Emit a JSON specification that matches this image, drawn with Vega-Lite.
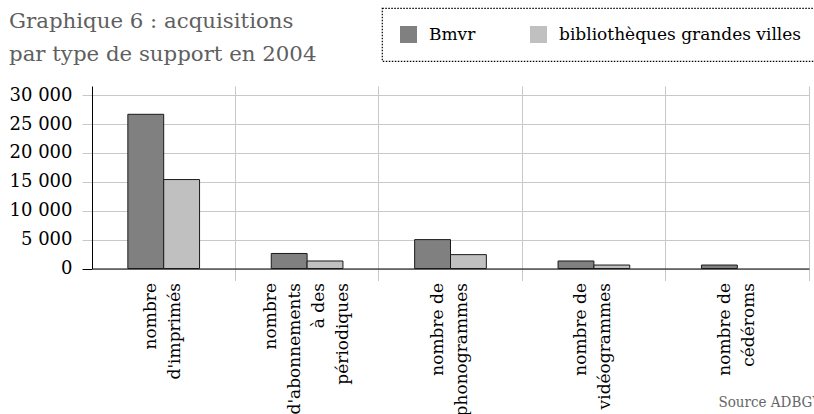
{
  "$schema": "https://vega.github.io/schema/vega-lite/v6.json",
  "width": 717,
  "height": 182.5,
  "autosize": {"type": "none"},
  "padding": {"left": 92, "top": 86, "right": 5, "bottom": 145.5},
  "title": {
    "text": ["Graphique 6 : acquisitions", "par type de support en 2004"],
    "anchor": "start",
    "frame": "bounds",
    "font": "DejaVu Serif",
    "fontSize": 21.3,
    "fontWeight": "normal",
    "color": "#5f5f5f",
    "lineHeight": 33,
    "dy": 62
  },
  "data": {
    "values": [
      {"support": "nombre\nd'imprimés", "bibliotheque": "Bmvr", "acquisitions": 26700},
      {"support": "nombre\nd'imprimés", "bibliotheque": "bibliothèques grandes villes", "acquisitions": 15400},
      {"support": "nombre\nd'abonnements\nà des\npériodiques", "bibliotheque": "Bmvr", "acquisitions": 2600},
      {"support": "nombre\nd'abonnements\nà des\npériodiques", "bibliotheque": "bibliothèques grandes villes", "acquisitions": 1300},
      {"support": "nombre de\nphonogrammes", "bibliotheque": "Bmvr", "acquisitions": 5000},
      {"support": "nombre de\nphonogrammes", "bibliotheque": "bibliothèques grandes villes", "acquisitions": 2400},
      {"support": "nombre de\nvidéogrammes", "bibliotheque": "Bmvr", "acquisitions": 1300},
      {"support": "nombre de\nvidéogrammes", "bibliotheque": "bibliothèques grandes villes", "acquisitions": 600},
      {"support": "nombre de\ncédéroms", "bibliotheque": "Bmvr", "acquisitions": 600}
    ]
  },
  "mark": {"type": "bar", "stroke": "#1a1a1a", "strokeWidth": 1},
  "encoding": {
    "x": {
      "field": "support",
      "type": "nominal",
      "sort": null,
      "scale": {"paddingInner": 0, "paddingOuter": 0},
      "axis": {
        "bandPosition": 1,
        "grid": true,
        "gridColor": "#c8c8c8",
        "gridWidth": 1,
        "domainColor": "#000000",
        "domainWidth": 1,
        "tickColor": "#c8c8c8",
        "tickSize": 12,
        "labelAngle": -90,
        "labelAlign": "right",
        "labelBaseline": "middle",
        "labelOffset": {"condition": {"test": "length(split(datum.value, '\\n')) == 4", "value": -36}, "value": -12.5},
        "labelPadding": 2,
        "labelFont": "DejaVu Serif",
        "labelFontSize": 17,
        "labelLineHeight": 24,
        "labelColor": "#000000",
        "labelOverlap": false,
        "labelExpr": "split(datum.value, '\\n')",
        "title": "Source ADBGV",
        "titleX": 626,
        "titleY": 138,
        "titleAlign": "left",
        "titleAngle": 0,
        "titleBaseline": "alphabetic",
        "titleFont": "DejaVu Serif Condensed",
        "titleFontSize": 15,
        "titleFontWeight": "normal",
        "titleColor": "#666666"
      }
    },
    "xOffset": {
      "field": "bibliotheque",
      "type": "nominal",
      "sort": ["Bmvr", "bibliothèques grandes villes"],
      "scale": {"paddingInner": 0, "paddingOuter": 1.43}
    },
    "y": {
      "field": "acquisitions",
      "type": "quantitative",
      "scale": {"domain": [0, 31600], "nice": false},
      "axis": {
        "values": [0, 5000, 10000, 15000, 20000, 25000, 30000],
        "labelExpr": "replace(format(datum.value, ','), ',', ' ')",
        "title": null,
        "grid": true,
        "gridColor": "#c8c8c8",
        "domainColor": "#000000",
        "tickColor": {"condition": {"test": "datum.value == 0", "value": "#000000"}, "value": "#c8c8c8"},
        "tickSize": 10,
        "labelPadding": 10,
        "labelFont": "DejaVu Serif",
        "labelFontSize": 18,
        "labelColor": "#000000"
      }
    },
    "color": {
      "field": "bibliotheque",
      "type": "nominal",
      "scale": {"domain": ["Bmvr", "bibliothèques grandes villes"], "range": ["#808080", "#c0c0c0"]},
      "legend": {
        "orient": "none",
        "legendX": 290,
        "legendY": -78,
        "direction": "horizontal",
        "title": null,
        "symbolType": "square",
        "symbolSize": 289,
        "symbolStrokeWidth": 0,
        "symbolStrokeColor": "transparent",
        "labelFont": "DejaVu Serif",
        "labelFontSize": 17,
        "labelColor": "#000000",
        "labelOffset": 12,
        "labelLimit": 400,
        "columnPadding": 54,
        "strokeColor": "#000000",
        "padding": 18
      }
    }
  },
  "config": {"view": {"stroke": null}, "legend": {"strokeDash": [1.5, 1.5], "strokeWidth": 1.2}}
}
